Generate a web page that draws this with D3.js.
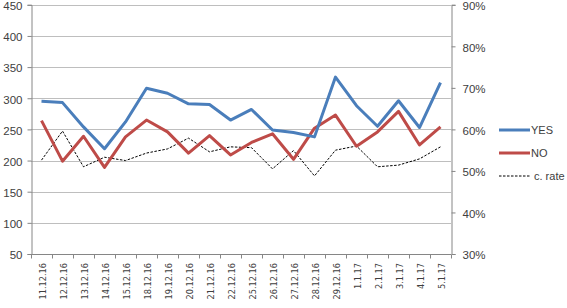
<!DOCTYPE html>
<html><head><meta charset="utf-8">
<script src="https://cdn.jsdelivr.net/npm/d3@7"></script>
<style>
html,body{margin:0;padding:0;background:#fff;}
svg{display:block;font-family:"Liberation Sans",Arial,sans-serif;}
</style></head>
<body>
<svg id="c" width="567" height="308"></svg>
<script>
const categories = ["11.12.16","12.12.16","13.12.16","14.12.16","15.12.16","18.12.16","19.12.16","20.12.16","21.12.16","22.12.16","25.12.16","26.12.16","27.12.16","28.12.16","29.12.16","1.1.17","2.1.17","3.1.17","4.1.17","5.1.17"];
const yesValues = [295,293,254,219,262,316,308,291,290,265,282,249,245,238,334,288,255,296,253,325];
const noValues  = [264,199,239,189,238,265,246,212,240,209,229,243,202,252,273,223,246,279,225,254];
const rateValues = [52.6,59.6,51.0,53.3,52.5,54.3,55.3,57.9,54.6,55.8,55.6,50.5,54.9,48.8,55.0,56.0,51.0,51.4,52.9,55.8];
const leftTicks = [50,100,150,200,250,300,350,400,450];
const rightTicks = [30,40,50,60,70,80,90];
const seriesNames = ["YES","NO","c. rate"];

const svg = d3.select("#c");
const L = 31, R = 451, T = 4.8, B = 254;
const x = d3.scaleBand().domain(categories).range([L, R]);
const yL = d3.scaleLinear().domain([50, 450]).range([B, T]);
const yR = d3.scaleLinear().domain([30, 90]).range([B, T]);
const axisCol = "#868686", textCol = "#404040", gridCol = "#bebebe";

// gridlines
svg.append("g").selectAll("line").data(leftTicks).join("line")
  .attr("x1", L).attr("x2", R)
  .attr("y1", d => Math.round(yL(d)) + 0.5).attr("y2", d => Math.round(yL(d)) + 0.5)
  .attr("stroke", gridCol).attr("stroke-width", 1);

// left axis
const gl = svg.append("g").attr("transform", `translate(${L + 0.5},0)`)
  .call(d3.axisLeft(yL).tickValues(leftTicks).tickSize(4).tickPadding(5).tickFormat(d3.format("d")));
gl.select(".domain").attr("stroke", axisCol);
gl.selectAll(".tick line").attr("stroke", axisCol);
gl.selectAll("text").attr("fill", textCol).attr("dy", "0.42em")
  .style("font-size", "11.5px").style("font-family", "'Liberation Sans',Arial,sans-serif");

// right axis
const gr = svg.append("g").attr("transform", `translate(${R + 0.5},0)`)
  .call(d3.axisRight(yR).tickValues(rightTicks).tickSize(4).tickPadding(7).tickFormat(d => d + "%"));
gr.select(".domain").attr("stroke", axisCol);
gr.selectAll(".tick line").attr("stroke", axisCol);
gr.selectAll("text").attr("fill", textCol).attr("dy", "0.42em")
  .style("font-size", "11.5px").style("font-family", "'Liberation Sans',Arial,sans-serif");

// bottom axis
const gb = svg.append("g").attr("transform", `translate(0,${Math.round(B) + 0.5})`);
gb.append("line").attr("x1", L).attr("x2", R).attr("stroke", axisCol);
const bounds = categories.map(c => x(c)).concat([R]);
gb.selectAll("line.tk").data(bounds).join("line").attr("class", "tk")
  .attr("x1", d => Math.round(d) + 0.5).attr("x2", d => Math.round(d) + 0.5)
  .attr("y1", 0).attr("y2", 4).attr("stroke", axisCol);
gb.selectAll("text").data(categories).join("text")
  .attr("transform", d => `translate(${x(d) + x.bandwidth() / 2 + 1.5},8.5) rotate(-90)`)
  .attr("text-anchor", "end").attr("dy", "0.35em")
  .attr("fill", textCol).style("font-size", "8.2px").style("font-family", "'DejaVu Sans',sans-serif")
  .text(d => d);

// lines
const cx = (d, i) => x(categories[i]) + x.bandwidth() / 2;
const lineL = d3.line().x((d, i) => cx(d, i)).y(d => yL(d));
const lineR = d3.line().x((d, i) => cx(d, i)).y(d => yR(d));
svg.append("path").datum(rateValues).attr("d", lineR).attr("fill", "none")
  .attr("stroke", "#000").attr("stroke-width", 1).attr("stroke-dasharray", "2.5,1.5");
svg.append("path").datum(noValues).attr("d", lineL).attr("fill", "none")
  .attr("stroke", "#BE4B48").attr("stroke-width", 3).attr("stroke-linejoin", "round");
svg.append("path").datum(yesValues).attr("d", lineL).attr("fill", "none")
  .attr("stroke", "#4A7EBB").attr("stroke-width", 3).attr("stroke-linejoin", "round");

// legend
const legColors = ["#4A7EBB", "#BE4B48", "#000"];
const legY = [130, 153, 176];
const lg = svg.append("g");
seriesNames.forEach((n, i) => {
  const gi = lg.append("g").attr("transform", `translate(0,${legY[i]})`);
  gi.append("line").attr("x1", 499).attr("x2", 530).attr("y1", 0).attr("y2", 0)
    .attr("stroke", legColors[i]).attr("stroke-width", i < 2 ? 3 : 1)
    .attr("stroke-dasharray", i < 2 ? null : "2.5,1.5");
  gi.append("text").attr("x", i < 2 ? 531 : 534).attr("y", 0).attr("dy", "0.35em")
    .attr("fill", textCol).style("font-size", "11px").text(n);
});
</script>
</body></html>
